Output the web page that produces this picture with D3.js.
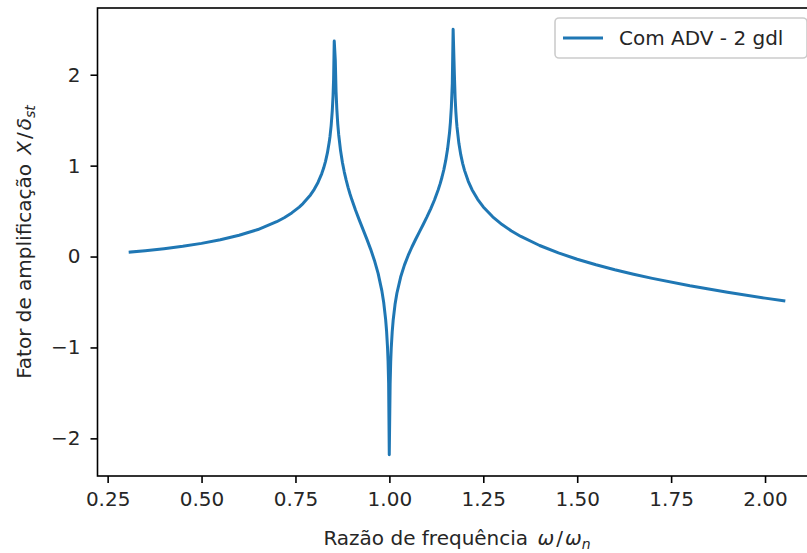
<!DOCTYPE html>
<html><head><meta charset="utf-8">
<script src="https://cdn.jsdelivr.net/npm/d3@7"></script>
<style>
body{margin:0;background:#fff;}
text{font-family:"DejaVu Sans",sans-serif;}
</style></head>
<body><svg id="c" width="807" height="553"></svg>
<script>
const freqRatio = [0.31,0.35,0.40,0.45,0.50,0.55,0.60,0.65,0.70,0.72,0.74,0.76,0.77,0.79,0.80,0.81,0.82,0.825,0.83,0.835,0.84,0.842,0.845,0.848,0.85,0.8515,0.8532,0.856,0.858,0.86,0.8625,0.865,0.87,0.875,0.88,0.885,0.89,0.895,0.90,0.91,0.92,0.93,0.94,0.95,0.96,0.97,0.98,0.985,0.99,0.9925,0.995,0.9965,0.998,0.9997,1.002,1.0035,1.005,1.0075,1.01,1.015,1.02,1.03,1.04,1.05,1.06,1.07,1.08,1.09,1.10,1.11,1.12,1.13,1.135,1.14,1.145,1.15,1.155,1.16,1.1625,1.165,1.1675,1.1697,1.173,1.175,1.177,1.1785,1.18,1.185,1.19,1.195,1.20,1.21,1.22,1.235,1.25,1.275,1.30,1.325,1.35,1.40,1.45,1.50,1.55,1.60,1.65,1.70,1.80,1.90,2.00,2.05];
const amplification = [0.049,0.0637,0.0857,0.1123,0.1447,0.1843,0.2337,0.2973,0.3831,0.4272,0.4797,0.5442,0.5826,0.6781,0.7394,0.815,0.9124,0.9736,1.0474,1.1397,1.2618,1.324,1.4402,1.6041,1.7662,1.9495,2.37,2.1607,1.8182,1.6265,1.4634,1.3428,1.1658,1.0348,0.9293,0.84,0.7617,0.6912,0.6265,0.5089,0.4007,0.2966,0.192,0.0819,-0.0402,-0.1855,-0.3776,-0.509,-0.6907,-0.818,-0.9963,-1.1524,-1.3966,-2.18,-1.3992,-1.157,-1.0028,-0.8278,-0.7037,-0.5287,-0.4039,-0.2256,-0.0948,0.0118,0.1049,0.1903,0.272,0.3531,0.4363,0.5247,0.6222,0.7346,0.7993,0.8723,0.9566,1.0576,1.1847,1.3589,1.4792,1.6437,1.9069,2.50,2.0037,1.7473,1.5883,1.499,1.4254,1.2454,1.1205,1.0251,0.948,0.8279,0.736,0.6293,0.5456,0.4368,0.3516,0.2813,0.2212,0.1216,0.0401,-0.0294,-0.0903,-0.1449,-0.1944,-0.2398,-0.3213,-0.393,-0.4574,-0.4873];
const xTicks = [0.25,0.50,0.75,1.00,1.25,1.50,1.75,2.00];
const yTicks = [-2,-1,0,1,2];
const seriesName = "Com ADV - 2 gdl";

const svg = d3.select("#c");
const L=97.5, R=816.5, T=8, B=476;
const fs = 20;
const x = d3.scaleLinear().domain([0.223,2.137]).range([L,R]);
const y = d3.scaleLinear().domain([-2.414,2.734]).range([B,T]);

const data = freqRatio.map((r,i)=>[r,amplification[i]]);

svg.append("path").datum(data)
  .attr("fill","none").attr("stroke","#1f77b4").attr("stroke-width",3)
  .attr("stroke-linejoin","round").attr("stroke-linecap","square")
  .attr("d", d3.line().x(d=>x(d[0])).y(d=>y(d[1])));

const fmtX = d3.format(".2f");
const fmtY = d=> d<0 ? "\u2212"+Math.abs(d) : String(d);

const xa = svg.append("g").attr("transform",`translate(0,${B})`)
  .call(d3.axisBottom(x).tickValues(xTicks).tickFormat(fmtX).tickSize(7).tickPadding(9));
const ya = svg.append("g").attr("transform",`translate(${L},0)`)
  .call(d3.axisLeft(y).tickValues(yTicks).tickFormat(fmtY).tickSize(7).tickPadding(10));
[xa,ya].forEach(g=>{
  g.select(".domain").remove();
  g.selectAll(".tick line").attr("stroke","#000").attr("stroke-width",1.6);
  g.selectAll(".tick text").attr("fill","#262626").style("font-size",fs+"px").style("font-family","DejaVu Sans");
});

svg.append("rect").attr("x",L).attr("y",T).attr("width",R-L).attr("height",B-T)
  .attr("fill","none").attr("stroke","#000").attr("stroke-width",1.6);

const xl = svg.append("text").attr("x",(L+R)/2 - 0).attr("y",545).attr("text-anchor","middle")
  .style("font-size",fs+"px").attr("fill","#262626");
xl.append("tspan").text("Razão de frequência ");
xl.append("tspan").attr("font-style","italic").attr("dx",3).text("ω");
xl.append("tspan").attr("dx",2).text("/");
xl.append("tspan").attr("font-style","italic").attr("dx",2).text("ω");
xl.append("tspan").attr("font-style","italic").attr("dy",4).style("font-size","14px").text("n");

const yl = svg.append("text").attr("transform",`translate(31,${(T+B)/2}) rotate(-90)`).attr("text-anchor","middle")
  .style("font-size",fs+"px").attr("fill","#262626");
yl.append("tspan").text("Fator de amplificação ");
yl.append("tspan").attr("font-style","italic").attr("dx",3).text("X");
yl.append("tspan").attr("dx",2).text("/");
yl.append("tspan").attr("font-style","italic").attr("dx",2).text("δ");
yl.append("tspan").attr("font-style","italic").attr("dy",4).style("font-size","14px").text("st");

const lg = svg.append("g");
const lx=555, ly=18, lw=252, lh=40;
lg.append("rect").attr("x",lx).attr("y",ly).attr("width",lw).attr("height",lh).attr("rx",4)
  .attr("fill","#fff").attr("fill-opacity",0.8).attr("stroke","#cccccc").attr("stroke-width",1.6);
lg.append("line").attr("x1",lx+8).attr("x2",lx+48).attr("y1",ly+lh/2).attr("y2",ly+lh/2)
  .attr("stroke","#1f77b4").attr("stroke-width",3);
lg.append("text").attr("x",lx+64).attr("y",ly+lh/2+7).style("font-size",fs+"px").attr("fill","#262626").text(seriesName);
</script></body></html>
